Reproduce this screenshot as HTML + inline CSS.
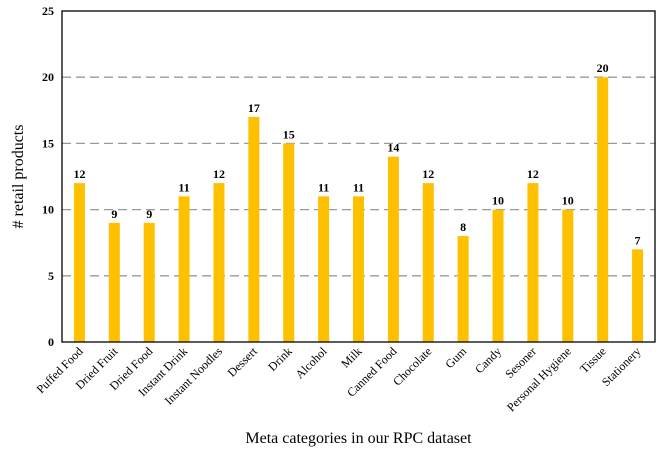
<!DOCTYPE html>
<html><head><meta charset="utf-8"><style>
body{margin:0;background:#fff}
svg text{font-family:"Liberation Serif",serif}
</style></head><body>
<svg id="chart" width="666" height="458"></svg>
<script>
const categories=["Puffed Food","Dried Fruit","Dried Food","Instant Drink","Instant Noodles","Dessert","Drink","Alcohol","Milk","Canned Food","Chocolate","Gum","Candy","Sesoner","Personal Hygiene","Tissue","Stationery"];
const values=[12,9,9,11,12,17,15,11,11,14,12,8,10,12,10,20,7];
const yTicks=[0,5,10,15,20,25];
const NS="http://www.w3.org/2000/svg";
const svg=document.getElementById('chart');
const L=62,R=655,T=11,B=342,yMax=25;
const y=v=>B-(v/yMax)*(B-T);
const step=(R-L)/categories.length;
const x=i=>L+step*(i+0.5);
function mk(tag,attrs,txt){const e=document.createElementNS(NS,tag);for(const k in attrs)e.setAttribute(k,attrs[k]);if(txt!=null)e.textContent=txt;svg.appendChild(e);return e;}
yTicks.forEach(t=>{
  if(t>0&&t<yMax){const g=mk('line',{x1:L,x2:R,y1:y(t),y2:y(t),stroke:'#999','stroke-width':1.3,'stroke-dasharray':'9,5'});
  
  }
  const tl=mk('text',{x:L-8,y:y(t)+4,'text-anchor':'end','font-size':12,'font-weight':'bold'},t);
  
  
});
categories.forEach((c,i)=>{
  const v=values[i];
  const b=mk('rect',{x:x(i)-5.5,y:y(v),width:11,height:B-y(v),fill:'#ffc000'});
  
  
  const vl=mk('text',{x:x(i),y:y(v)-5,'text-anchor':'middle','font-size':12,'font-weight':'bold'},v);
  
  
  const xl=mk('text',{x:x(i)+4,y:B+10,'text-anchor':'end','font-size':12,transform:`rotate(-45 ${x(i)+4} ${B+10})`},c);
  
  
});
const fr=mk('rect',{x:L,y:T,width:R-L,height:B-T,fill:'none',stroke:'#000','stroke-width':1.3});


const yt=mk('text',{x:0,y:0,'text-anchor':'middle','font-size':16,transform:`translate(23 ${(T+B)/2}) rotate(-90)`},'# retail products');


const xt=mk('text',{x:(L+R)/2,y:443,'text-anchor':'middle','font-size':16},'Meta categories in our RPC dataset');


</script>
</body></html>
